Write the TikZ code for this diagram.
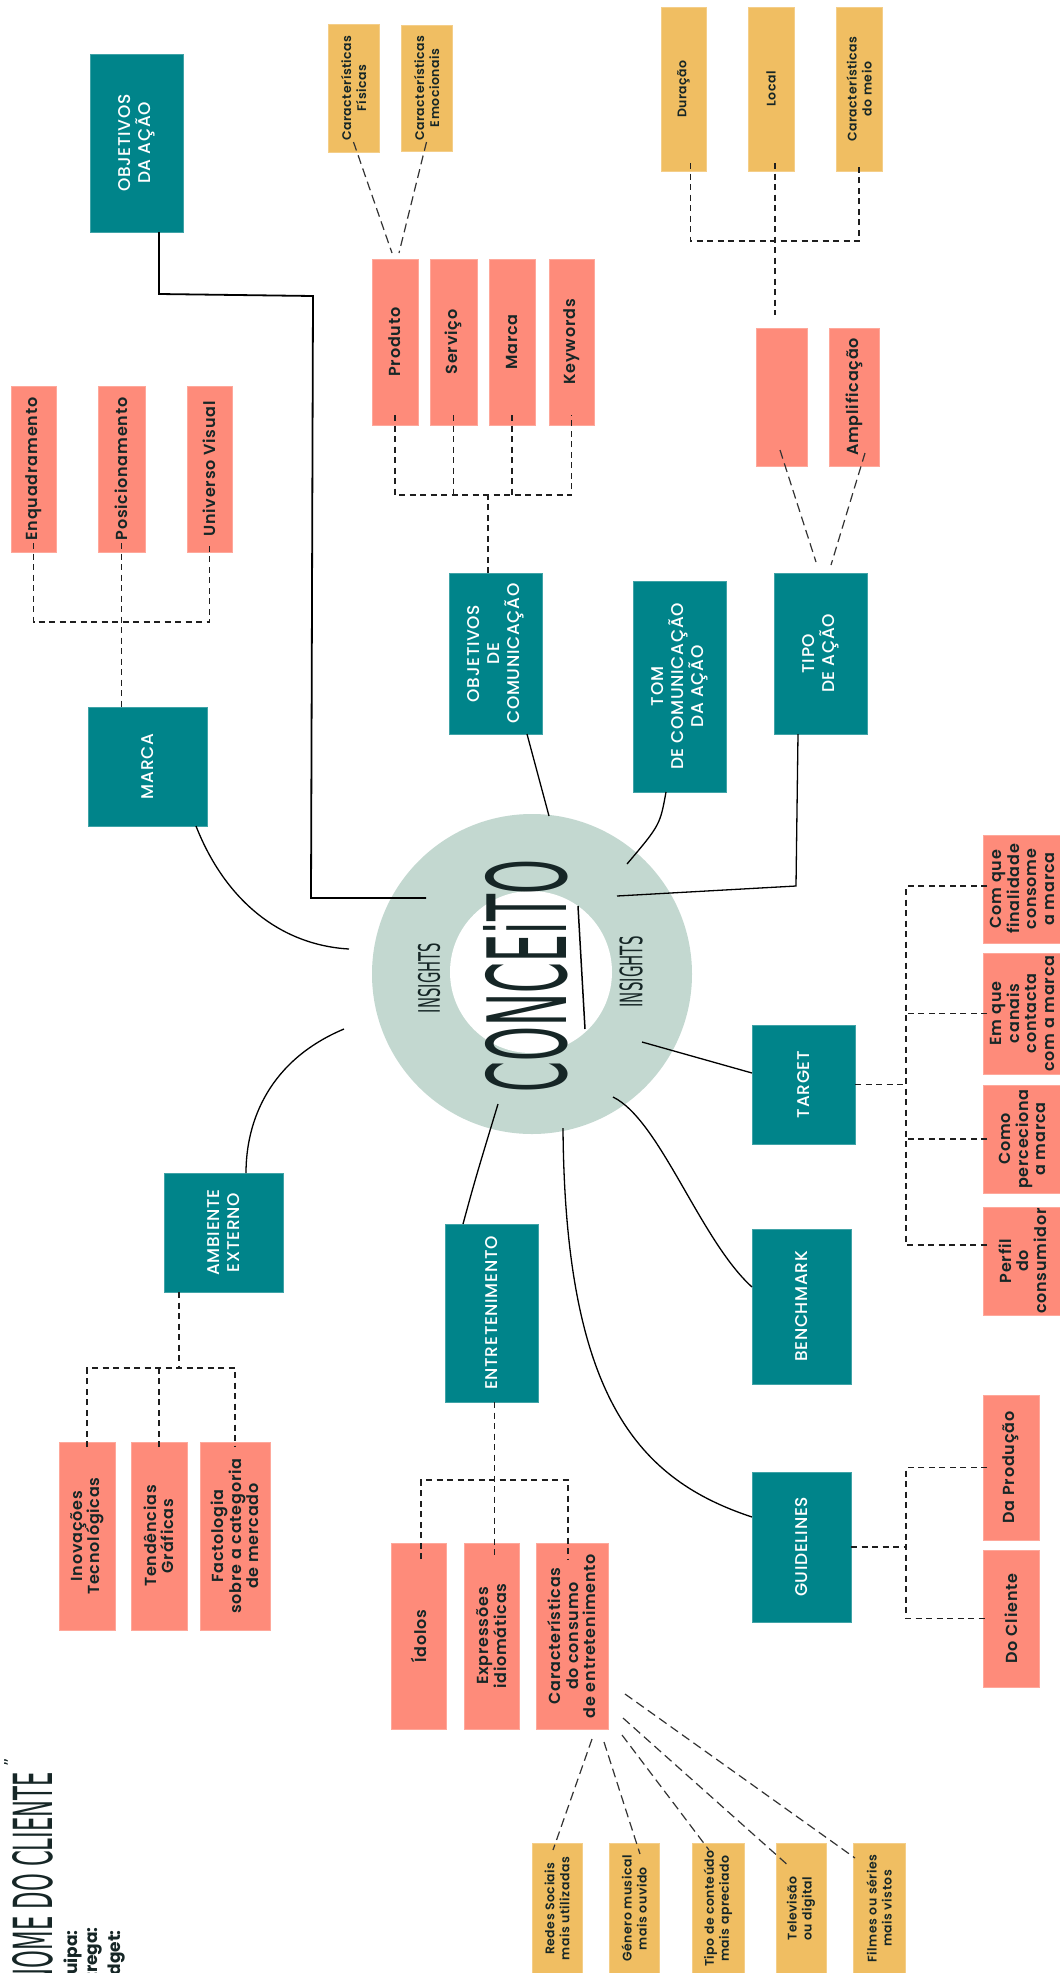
\documentclass[tikz,border=0pt]{standalone}
\usepackage{fontspec}
\setmainfont{Poppins}
\newfontfamily\hand{DejaVu Sans}
\newfontfamily\pmed{Poppins Medium}[LetterSpace=4]
\newfontfamily\psemi{Poppins SemiBold}[LetterSpace=5]
\newfontfamily\psemiy{Poppins SemiBold}[LetterSpace=4]
\usepackage{graphicx}
\usetikzlibrary{calc}
\definecolor{tealc}{RGB}{0,132,138}
\definecolor{salm}{RGB}{254,139,122}
\definecolor{yel}{RGB}{240,190,98}
\definecolor{ringc}{RGB}{195,216,208}
\definecolor{ink}{RGB}{22,38,38}
\tikzset{
 basebox/.style={rotate=90, inner sep=0pt, outer sep=0pt, align=center, line width=0.6pt},
 tbox/.style={basebox, fill=tealc, draw=tealc!75!white, text=white, font=\pmed\fontsize{17}{20}\selectfont},
 sbox/.style={basebox, fill=salm, draw=salm!75!white, text=ink, font=\psemi\fontsize{16}{17.5}\selectfont},
 ybox/.style={basebox, fill=yel, draw=yel!75!white, text=ink, font=\psemiy\fontsize{12.5}{15}\selectfont},
 conn/.style={line width=1.3pt, black},
 dsh/.style={draw=black!88, line width=1.4pt, dash pattern=on 6pt off 4.5pt},
 dshl/.style={draw=black!80, line width=1.2pt, dash pattern=on 9pt off 5pt},
}
\newcommand\bx[7]{%
  \pgfmathsetmacro\bxw{#5-#3}%
  \pgfmathsetmacro\bxh{#6-#4}%
  \pgfmathsetmacro\bxcx{(#3+#5)/2}%
  \pgfmathsetmacro\bxcy{(#4+#6)/2}%
  \node[#1, minimum width=\bxh pt, minimum height=\bxw pt] (#2) at (\bxcx,\bxcy) {#7};}
\begin{document}
\begin{tikzpicture}[x=1pt,y=-1pt]
\useasboundingbox (0,0) rectangle (1060,1973);
\clip (0,0) rectangle (1060,1973);
\fill[white] (0,0) rectangle (1060,1973);

% central circle
\fill[ringc] (532,974) circle (160);
\fill[white] (531,972) circle (81);
\node[rotate=90, inner sep=0pt, text=ink] (conceito) at (526,976) {\resizebox{232pt}{83pt}{\hand CONCEiTO}};
\node[rotate=90, inner sep=0pt, text=ink] (ins1) at (429,978) {\resizebox{70pt}{22pt}{\hand INSIGHTS}};
\node[rotate=90, inner sep=0pt, text=ink] (ins2) at (631,972) {\resizebox{71pt}{23pt}{\hand INSIGHTS}};
\coordinate (u1) at (578,906);
\coordinate (u2) at (585,1029);
\draw[conn, line width=1.5pt] (u1) -- (u2);

% title
\node[rotate=90, inner sep=0pt, anchor=base east, text=ink] (title) at (52,1772) {\resizebox{213pt}{40pt}{\hand NOME DO CLIENTE}};
\node[rotate=90, inner sep=0pt, text=ink, font=\hand\fontsize{16}{16}\selectfont] (tq) at (10,1762) {”};
\node[rotate=90, inner sep=0pt, anchor=base east, text=ink, font=\fontsize{17}{17}\selectfont\bfseries] (eq) at (77,1930) {Equipa:};
\node[rotate=90, inner sep=0pt, anchor=base east, text=ink, font=\fontsize{17}{17}\selectfont\bfseries] (en) at (97,1927) {Entrega:};
\node[rotate=90, inner sep=0pt, anchor=base east, text=ink, font=\fontsize{17}{17}\selectfont\bfseries] (bu) at (120,1930) {Budget:};

% teal boxes
\bx{tbox}{oda}{90}{54}{183}{232}{OBJETIVOS\\DA AÇÃO}
\bx{tbox}{marca}{88}{707}{207}{826}{MARCA}
\bx{tbox}{ocom}{449}{573}{542}{734}{OBJETIVOS\\DE\\COMUNICAÇÃO}
\bx{tbox}{tom}{633}{581}{726}{792}{TOM\\DE COMUNICAÇÃO\\DA AÇÃO}
\bx{tbox}{tipo}{774}{573}{867}{734}{TIPO\\DE AÇÃO}
\bx{tbox}{target}{752}{1025}{855}{1144}{TARGET}
\bx{tbox}{bench}{752}{1229}{851}{1384}{BENCHMARK}
\bx{tbox}{guide}{752}{1472}{851}{1622}{GUIDELINES}
\bx{tbox}{entre}{445}{1224}{538}{1402}{ENTRETENIMENTO}
\bx{tbox}{amb}{164}{1173}{283}{1292}{AMBIENTE\\EXTERNO}

% salmon boxes
\bx{sbox}{enq}{11}{386}{56}{552}{Enquadramento}
\bx{sbox}{pos}{98}{386}{145}{552}{Posicionamento}
\bx{sbox}{uni}{187}{386}{232}{552}{Universo Visual}
\bx{sbox}{prod}{372}{259}{418}{425}{Produto}
\bx{sbox}{serv}{430}{259}{477}{425}{Serviço}
\bx{sbox}{mrc}{489}{259}{535}{425}{Marca}
\bx{sbox}{kw}{549}{259}{594}{425}{Keywords}
\bx{sbox}{empty}{756}{328}{807}{466}{}
\bx{sbox}{amp}{829}{328}{879}{466}{Amplificação}
\bx{sbox}{cqf}{983}{835}{1062}{943}{Com que\\finalidade\\consome\\a marca}
\bx{sbox}{eqc}{983}{953}{1062}{1074}{Em que\\canais\\contacta\\com a marca}
\bx{sbox}{cpm}{983}{1085}{1062}{1193}{Como\\perceciona\\a marca}
\bx{sbox}{pfc}{983}{1207}{1062}{1315}{Perfil\\do\\consumidor}
\bx{sbox}{dap}{983}{1395}{1039}{1540}{Da Produção}
\bx{sbox}{dcl}{983}{1550}{1039}{1687}{Do Cliente}
\bx{sbox}{ino}{59}{1442}{115}{1630}{Inovações\\Tecnológicas}
\bx{sbox}{ten}{131}{1442}{187}{1630}{Tendências\\Gráficas}
\bx{sbox}{fac}{200}{1442}{270}{1630}{Factologia\\sobre a categoria\\de mercado}
\bx{sbox}{ido}{391}{1543}{446}{1729}{Ídolos}
\bx{sbox}{exp}{464}{1543}{519}{1729}{Expressões\\idiomáticas}
\bx{sbox}{ccs}{536}{1543}{608}{1729}{Características\\do consumo\\de entretenimento}

% yellow boxes
\bx{ybox}{cfis}{328}{24}{379}{152}{Características\\Físicas}
\bx{ybox}{cemo}{401}{25}{452}{151}{Características\\Emocionais}
\bx{ybox}{dur}{661}{7}{706}{171}{Duração}
\bx{ybox}{loc}{748}{7}{794}{171}{Local}
\bx{ybox}{cmeio}{836}{7}{882}{171}{Características\\do meio}
\bx{ybox}{red}{532}{1843}{582}{1974}{Redes Sociais\\mais utilizadas}
\bx{ybox}{gen}{609}{1843}{659}{1974}{Género musical\\mais ouvido}
\bx{ybox}{tip}{692}{1843}{744}{1974}{Tipo de conteúdo\\mais apreciado}
\bx{ybox}{tel}{776}{1843}{826}{1974}{Televisão\\ou digital}
\bx{ybox}{fil}{853}{1843}{905}{1974}{Filmes ou séries\\mais vistos}

% circle attach points
\coordinate (c-oda) at (426,898);
\coordinate (c-marca) at (349,949);
\coordinate (c-ocom) at (549,816);
\coordinate (c-tom) at (627,864);
\coordinate (c-tipo) at (617,896);
\coordinate (c-target) at (642,1042);
\coordinate (c-bench) at (613,1097);
\coordinate (c-guide) at (563,1128);
\coordinate (c-entre) at (498,1104);
\coordinate (c-amb) at (344,1029);

% solid connectors
\draw[conn, line width=1.8pt] ([xshift=22.5pt]oda.west) -- (159,294) -- (313,296) -- (311,898) -- (c-oda);
\draw[conn] ([xshift=48.5pt]marca.west) .. controls (225,900) and (280,945) .. (c-marca);
\draw[conn] ([xshift=31.5pt]ocom.west) -- (c-ocom);
\draw[conn] ([xshift=-13.5pt]tom.west) .. controls (660,825) .. (c-tom);
\draw[conn] ([xshift=-22.5pt]tipo.west) -- (796,886) -- (c-tipo);
\draw[conn] ([yshift=11.5pt]target.north) -- (c-target);
\draw[conn] (c-bench) .. controls (660,1120) and (700,1240) .. ([yshift=19.5pt]bench.north);
\draw[conn] (c-guide) .. controls (565,1400) and (640,1480) .. ([yshift=30pt]guide.north);
\draw[conn] ([xshift=-28.5pt]entre.east) .. controls (475,1180) .. (c-entre);
\draw[conn] ([xshift=22.5pt]amb.east) .. controls (246,1120) and (270,1060) .. (c-amb);

% dashed: marca
\draw[dsh] ([yshift=9pt]enq.west) -- ++(0,79) -| ([yshift=9pt]uni.west);
\draw[dsh] ([yshift=9pt]pos.west) -- (pos.west |- marca.east);
% dashed: produto group
\draw[dsh] ([yshift=10pt]prod.west) -- ++(0,80) -| ([yshift=10pt]kw.west);
\draw[dsh] ([yshift=10pt]serv.west) -- ++(0,80);
\draw[dsh] ([yshift=10pt]mrc.west) -- ++(0,80);
\draw[dsh] ([xshift=-7.5pt]ocom.east) -- ++(0,-78);
\draw[dshl] ([yshift=10pt]cfis.west) -- ([xshift=-3pt,yshift=6pt]prod.east);
\draw[dshl] ([yshift=9pt]cemo.west) -- ([xshift=4pt,yshift=6pt]prod.east);
% dashed: tipo de acao
\draw[dsh] ([xshift=7pt,yshift=8pt]dur.west) -- ++(0,78) -| ([yshift=8pt]cmeio.west);
\draw[dsh] ([xshift=4pt,yshift=8pt]loc.west) -- ([xshift=-6.5pt,yshift=13pt]empty.east);
\draw[dshl] ([xshift=-1.5pt,yshift=16pt]empty.west) -- ([xshift=-4.5pt,yshift=11pt]tipo.east);
\draw[dshl] ([xshift=11pt,yshift=13pt]amp.west) -- ([xshift=10.5pt,yshift=8pt]tipo.east);
% dashed: target
\draw[dsh] (target.south) -- ++(51,0);
\draw[dsh] ([xshift=4pt,yshift=3pt]cqf.north) -- ++(-81,0) |- ([xshift=4pt,yshift=16pt]pfc.north);
\draw[dsh] ([xshift=4pt]eqc.north) -- ++(-81,0);
\draw[dsh] ([xshift=4pt]cpm.north) -- ++(-81,0);
% dashed: guidelines
\draw[dsh] (guide.south) -- ++(55,0);
\draw[dsh] ([xshift=4pt]dap.north) -- ++(-81,0) |- ([xshift=4pt]dcl.north);
% dashed: ambiente externo
\draw[dsh] ([yshift=-5pt]ino.east) -- ++(0,-79) -| ([yshift=-5pt]fac.east);
\draw[dsh] ([yshift=-5pt]ten.east) -- ++(0,-79);
\draw[dsh] ([xshift=-44.5pt]amb.west) -- ++(0,76);
% dashed: entretenimento
\draw[dsh] ([xshift=2.5pt,yshift=-16pt]ido.east) -- ++(0,-79) -| ([xshift=-4pt,yshift=-16pt]ccs.east);
\draw[dsh] ([xshift=3pt]entre.west) -- ([xshift=3pt,yshift=-16pt]exp.east);
% dashed: consumo -> yellow
\draw[dshl] ([xshift=20pt,yshift=-10pt]ccs.west) -- ([xshift=-4pt,yshift=-7pt]red.east);
\draw[dshl] ([xshift=32pt,yshift=-13pt]ccs.west) -- ([xshift=6pt,yshift=-11pt]gen.east);
\draw[dshl] ([xshift=50pt,yshift=-6pt]ccs.west) -- ([xshift=-9pt,yshift=-7pt]tip.east);
\draw[dshl] ([xshift=15pt,yshift=-82pt]ccs.south) -- ([xshift=-11pt,yshift=-24pt]tel.east);
\draw[dshl] ([xshift=17pt,yshift=-58pt]ccs.south) -- ([xshift=-24pt,yshift=-15pt]fil.east);
\end{tikzpicture}
\end{document}
